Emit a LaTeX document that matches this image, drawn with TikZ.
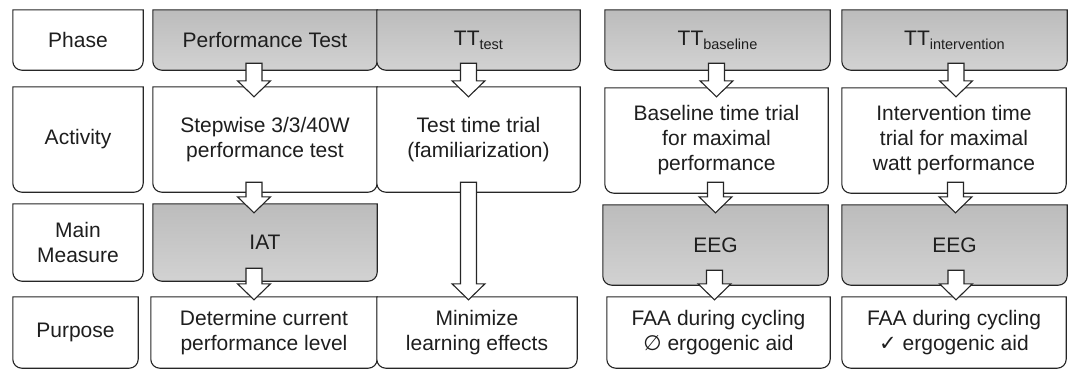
\documentclass[tikz,border=0pt]{standalone}
\usepackage{fontspec}
\setmainfont{Liberation Sans}
\newfontfamily\symfont{DejaVu Sans}
\usetikzlibrary{backgrounds,calc}
\definecolor{txt}{HTML}{1E1E1E}
\definecolor{gtop}{HTML}{BCBCBC}
\definecolor{gbot}{HTML}{D2D2D2}
\tikzset{
  boxline/.style={draw=black!85, line width=1.1pt},
  whitebox/.style={boxline, fill=white},
  graybox/.style={boxline, top color=gtop, bottom color=gbot},
  boxtext/.style={inner sep=0pt, align=center, text=txt, font=\fontsize{21}{25}\selectfont},
  barrowst/.style={draw=black!85, fill=white, line width=1.1pt, line join=miter},
}
\newcommand\ubox[7]{%
  \node[boxtext, minimum width={(#5-#3)*1pt}, minimum height={(#6-#4)*1pt}] (#1) at ({(#3+#5)/2},{(#4+#6)/2}) {#7};
  \begin{pgfonlayer}{background}
    \path[#2] (#1.north west) -- (#1.north east) -- ([yshift=9pt]#1.south east)
      .. controls ([yshift=4pt]#1.south east) and ([xshift=-4pt]#1.south east) .. ([xshift=-9pt]#1.south east)
      -- ([xshift=9pt]#1.south west)
      .. controls ([xshift=4pt]#1.south west) and ([yshift=4pt]#1.south west) .. ([yshift=9pt]#1.south west) -- cycle;
  \end{pgfonlayer}}
\newcommand\barrow[2]{%
  \draw[barrowst] let \p1=(#1), \p2=(#2) in
    (\x1-8pt,\y1) -- (\x1+8pt,\y1) -- (\x1+8pt,\y2+16pt) -- (\x1+16.5pt,\y2+16pt)
    -- (\x1,\y2) -- (\x1-16.5pt,\y2+16pt) -- (\x1-8pt,\y2+16pt) -- cycle;}
\newcommand\sub[1]{\raisebox{-4pt}{\fontsize{14.5}{14.5}\selectfont #1}}
\begin{document}
\begin{tikzpicture}[x=1pt,y=-1pt]
\useasboundingbox (0,0) rectangle (1072,370);
% label column
\ubox{lP}{whitebox}{13}{10}{143}{70}{Phase}
\ubox{lA}{whitebox}{13}{87}{143}{192}{Activity}
\ubox{lM}{whitebox}{13}{204}{143}{281}{Main\\Measure}
\ubox{lU}{whitebox}{13}{297}{138}{368}{Purpose}
% column A
\ubox{pA}{graybox}{153}{10}{377}{70}{Performance Test}
\ubox{aA}{whitebox}{153}{87}{377}{192}{Stepwise 3/3/40W\\performance test}
\ubox{mA}{graybox}{153}{204}{377}{281}{IAT}
\ubox{dA}{whitebox}{151}{297}{377}{368}{Determine current\\performance level}
% column B
\ubox{pB}{graybox}{377}{10}{580}{70}{TT\sub{test}}
\ubox{aB}{whitebox}{377}{87}{580}{192}{Test time trial\\(familiarization)}
\ubox{dB}{whitebox}{377}{297}{577}{368}{Minimize\\learning effects}
% column C
\ubox{pC}{graybox}{605}{10}{830}{70}{TT\sub{baseline}}
\ubox{aC}{whitebox}{605}{88}{828}{193}{Baseline time trial\\for maximal\\performance}
\ubox{mC}{graybox}{603}{205}{828}{285}{EEG}
\ubox{dC}{whitebox}{607}{297}{830}{368}{FAA during cycling\\{\symfont ∅} ergogenic aid}
% column D
\ubox{pD}{graybox}{842}{10}{1067}{70}{TT\sub{intervention}}
\ubox{aD}{whitebox}{842}{88}{1066}{193}{Intervention time\\trial for maximal\\watt performance}
\ubox{mD}{graybox}{842}{205}{1067}{285}{EEG}
\ubox{dD}{whitebox}{842}{297}{1066}{368}{FAA during cycling\\{\symfont ✓} ergogenic aid}
% arrow end points
\coordinate (A1s) at ([xshift=-11pt,yshift=7pt]pA.south);
\coordinate (A1e) at ([xshift=-11pt,yshift=-10pt]aA.north);
\coordinate (A2s) at ([xshift=-11pt,yshift=10pt]aA.south);
\coordinate (A2e) at ([xshift=-11pt,yshift=-9pt]mA.north);
\coordinate (A3s) at ([xshift=-11pt,yshift=13pt]mA.south);
\coordinate (A3e) at ([xshift=-11pt,yshift=-3pt]dA.north);
\coordinate (B1s) at ([xshift=-10pt,yshift=7pt]pB.south);
\coordinate (B1e) at ([xshift=-10pt,yshift=-10pt]aB.north);
\coordinate (B2s) at ([xshift=-10pt,yshift=10pt]aB.south);
\coordinate (B2e) at ([xshift=-10pt,yshift=-3pt]dB.north);
\coordinate (C1s) at ([xshift=-1pt,yshift=7pt]pC.south);
\coordinate (C1e) at ([xshift=-1pt,yshift=-9pt]aC.north);
\coordinate (C2s) at ([xshift=-1pt,yshift=11pt]aC.south);
\coordinate (C2e) at ([xshift=-1pt,yshift=-8pt]mC.north);
\coordinate (C3s) at ([xshift=-1pt,yshift=15pt]mC.south);
\coordinate (C3e) at ([xshift=-1pt,yshift=-3pt]dC.north);
\coordinate (D1s) at ([xshift=1.5pt,yshift=7pt]pD.south);
\coordinate (D1e) at ([xshift=1.5pt,yshift=-9pt]aD.north);
\coordinate (D2s) at ([xshift=1.5pt,yshift=11pt]aD.south);
\coordinate (D2e) at ([xshift=1.5pt,yshift=-8pt]mD.north);
\coordinate (D3s) at ([xshift=1.5pt,yshift=15pt]mD.south);
\coordinate (D3e) at ([xshift=1.5pt,yshift=-3pt]dD.north);
% block arrows
\barrow{A1s}{A1e}
\barrow{A2s}{A2e}
\barrow{A3s}{A3e}
\barrow{B1s}{B1e}
\barrow{B2s}{B2e}
\barrow{C1s}{C1e}
\barrow{C2s}{C2e}
\barrow{C3s}{C3e}
\barrow{D1s}{D1e}
\barrow{D2s}{D2e}
\barrow{D3s}{D3e}
\end{tikzpicture}
\end{document}
